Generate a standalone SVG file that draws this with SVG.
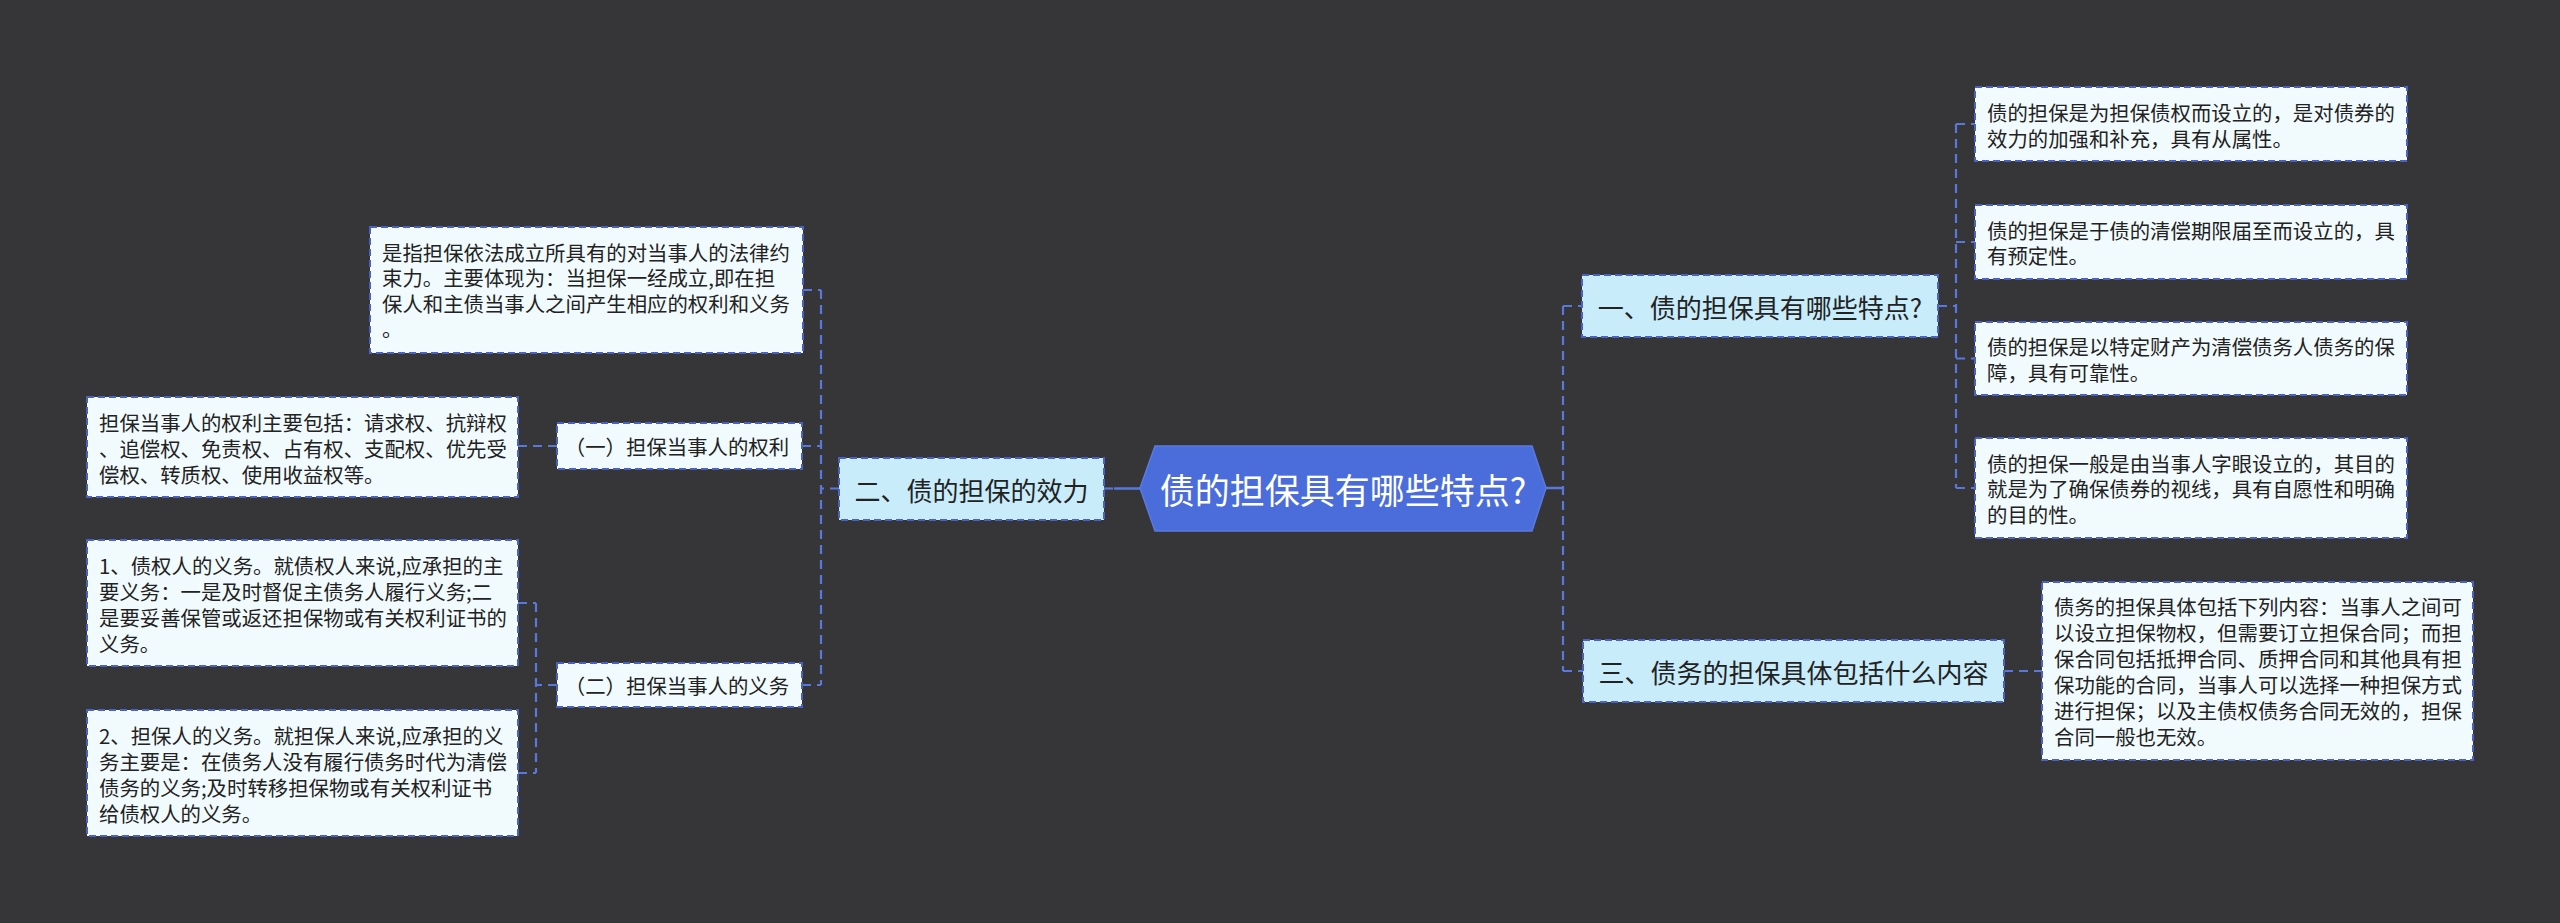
<svg xmlns="http://www.w3.org/2000/svg" width="2560" height="923" viewBox="0 0 2560 923">
<style>
.bg{fill:#363538}
.leaf{fill:#f1fbfe;stroke:#4a62c4;stroke-width:2;stroke-dasharray:7 4}
.l1{fill:#c9ecfb;stroke:#4a62c4;stroke-width:2;stroke-dasharray:7 4}
.root{fill:#4b6ddb;stroke:#5a7ae0;stroke-width:1.5}
.t{font-family:"Noto Sans CJK SC","Noto Sans",sans-serif;fill:#222;dominant-baseline:central}
.tl{font-size:20.4px}
.t1{font-size:26px;text-anchor:middle}
.tr{font-size:35px;text-anchor:middle;fill:#ffffff}
.c{fill:none;stroke:#5a78dc;stroke-width:2.2;stroke-dasharray:9 6}
.s{fill:none;stroke:#5a78dc;stroke-width:2.5}
</style>
<rect class="bg" x="0" y="0" width="2560" height="923"/>
<g id="connectors">
<path class="s" d="M1114 488.5 H1140"/>
<path class="c" d="M1104 488.5 H1114"/>
<path class="c" d="M839 488.5 H821"/>
<path class="c" d="M821 290 V685"/>
<path class="c" d="M803 290 H821"/>
<path class="c" d="M802 446 H821"/>
<path class="c" d="M802 685 H821"/>
<path class="c" d="M557 446 H518"/>
<path class="c" d="M557 685 H536"/>
<path class="c" d="M536 603 V773"/>
<path class="c" d="M518 603 H536"/>
<path class="c" d="M518 773 H536"/>
<path class="s" d="M1546 488 H1563"/>
<path class="c" d="M1563 306 V671"/>
<path class="c" d="M1563 306 H1582"/>
<path class="c" d="M1563 671 H1583"/>
<path class="c" d="M1938 306 H1956"/>
<path class="c" d="M1956 124 V488"/>
<path class="c" d="M1956 124 H1975"/>
<path class="c" d="M1956 242 H1975"/>
<path class="c" d="M1956 358.5 H1975"/>
<path class="c" d="M1956 488 H1975"/>
<path class="c" d="M2004 671 H2042"/>
</g>
<g id="root">
<polygon class="root" points="1140,488 1155,446 1532,446 1546,488 1532,531 1155,531"/>
<text class="t tr" x="1343" y="488">债的担保具有哪些特点?</text>
</g>
<g id="n-effect">
<rect class="l1" x="839" y="458" width="265" height="62"/>
<text class="t t1" x="971.5" y="489">二、债的担保的效力</text>
</g>
<g id="n-effect-def">
<rect class="leaf" x="370" y="227" width="433" height="126"/>
<text class="t tl" x="382" y="251.5">是指担保依法成立所具有的对当事人的法律约</text>
<text class="t tl" x="382" y="277">束力。主要体现为：当担保一经成立,即在担</text>
<text class="t tl" x="382" y="302.5">保人和主债当事人之间产生相应的权利和义务</text>
<text class="t tl" x="382" y="328">。</text>
</g>
<g id="n-rights">
<rect class="leaf" x="557" y="423" width="245" height="46"/>
<text class="t tl" x="677" y="446" text-anchor="middle">（一）担保当事人的权利</text>
</g>
<g id="n-rights-detail">
<rect class="leaf" x="87" y="397" width="431" height="100"/>
<text class="t tl" x="99" y="422">担保当事人的权利主要包括：请求权、抗辩权</text>
<text class="t tl" x="99" y="448">、追偿权、免责权、占有权、支配权、优先受</text>
<text class="t tl" x="99" y="474">偿权、转质权、使用收益权等。</text>
</g>
<g id="n-duties">
<rect class="leaf" x="557" y="663" width="245" height="44"/>
<text class="t tl" x="677" y="685" text-anchor="middle">（二）担保当事人的义务</text>
</g>
<g id="n-duty-creditor">
<rect class="leaf" x="87" y="540" width="431" height="126"/>
<text class="t tl" x="99" y="565">1、债权人的义务。就债权人来说,应承担的主</text>
<text class="t tl" x="99" y="591">要义务：一是及时督促主债务人履行义务;二</text>
<text class="t tl" x="99" y="617">是要妥善保管或返还担保物或有关权利证书的</text>
<text class="t tl" x="99" y="643">义务。</text>
</g>
<g id="n-duty-guarantor">
<rect class="leaf" x="87" y="710" width="431" height="126"/>
<text class="t tl" x="99" y="735">2、担保人的义务。就担保人来说,应承担的义</text>
<text class="t tl" x="99" y="761">务主要是：在债务人没有履行债务时代为清偿</text>
<text class="t tl" x="99" y="787">债务的义务;及时转移担保物或有关权利证书</text>
<text class="t tl" x="99" y="813">给债权人的义务。</text>
</g>
<g id="n-features">
<rect class="l1" x="1582" y="275" width="356" height="62"/>
<text class="t t1" x="1760" y="306">一、债的担保具有哪些特点?</text>
</g>
<g id="n-f1">
<rect class="leaf" x="1975" y="87" width="432" height="74"/>
<text class="t tl" x="1987" y="112">债的担保是为担保债权而设立的，是对债券的</text>
<text class="t tl" x="1987" y="137.5">效力的加强和补充，具有从属性。</text>
</g>
<g id="n-f2">
<rect class="leaf" x="1975" y="205" width="432" height="74"/>
<text class="t tl" x="1987" y="229.5">债的担保是于债的清偿期限届至而设立的，具</text>
<text class="t tl" x="1987" y="255">有预定性。</text>
</g>
<g id="n-f3">
<rect class="leaf" x="1975" y="322" width="432" height="73"/>
<text class="t tl" x="1987" y="346">债的担保是以特定财产为清偿债务人债务的保</text>
<text class="t tl" x="1987" y="371.5">障，具有可靠性。</text>
</g>
<g id="n-f4">
<rect class="leaf" x="1975" y="438" width="432" height="100"/>
<text class="t tl" x="1987" y="462.5">债的担保一般是由当事人字眼设立的，其目的</text>
<text class="t tl" x="1987" y="488">就是为了确保债券的视线，具有自愿性和明确</text>
<text class="t tl" x="1987" y="513.5">的目的性。</text>
</g>
<g id="n-content">
<rect class="l1" x="1583" y="640" width="421" height="62"/>
<text class="t t1" x="1793.5" y="671">三、债务的担保具体包括什么内容</text>
</g>
<g id="n-content-detail">
<rect class="leaf" x="2042" y="582" width="431" height="178"/>
<text class="t tl" x="2054" y="606">债务的担保具体包括下列内容：当事人之间可</text>
<text class="t tl" x="2054" y="632">以设立担保物权，但需要订立担保合同；而担</text>
<text class="t tl" x="2054" y="658">保合同包括抵押合同、质押合同和其他具有担</text>
<text class="t tl" x="2054" y="684">保功能的合同，当事人可以选择一种担保方式</text>
<text class="t tl" x="2054" y="710">进行担保；以及主债权债务合同无效的，担保</text>
<text class="t tl" x="2054" y="736">合同一般也无效。</text>
</g>
</svg>
